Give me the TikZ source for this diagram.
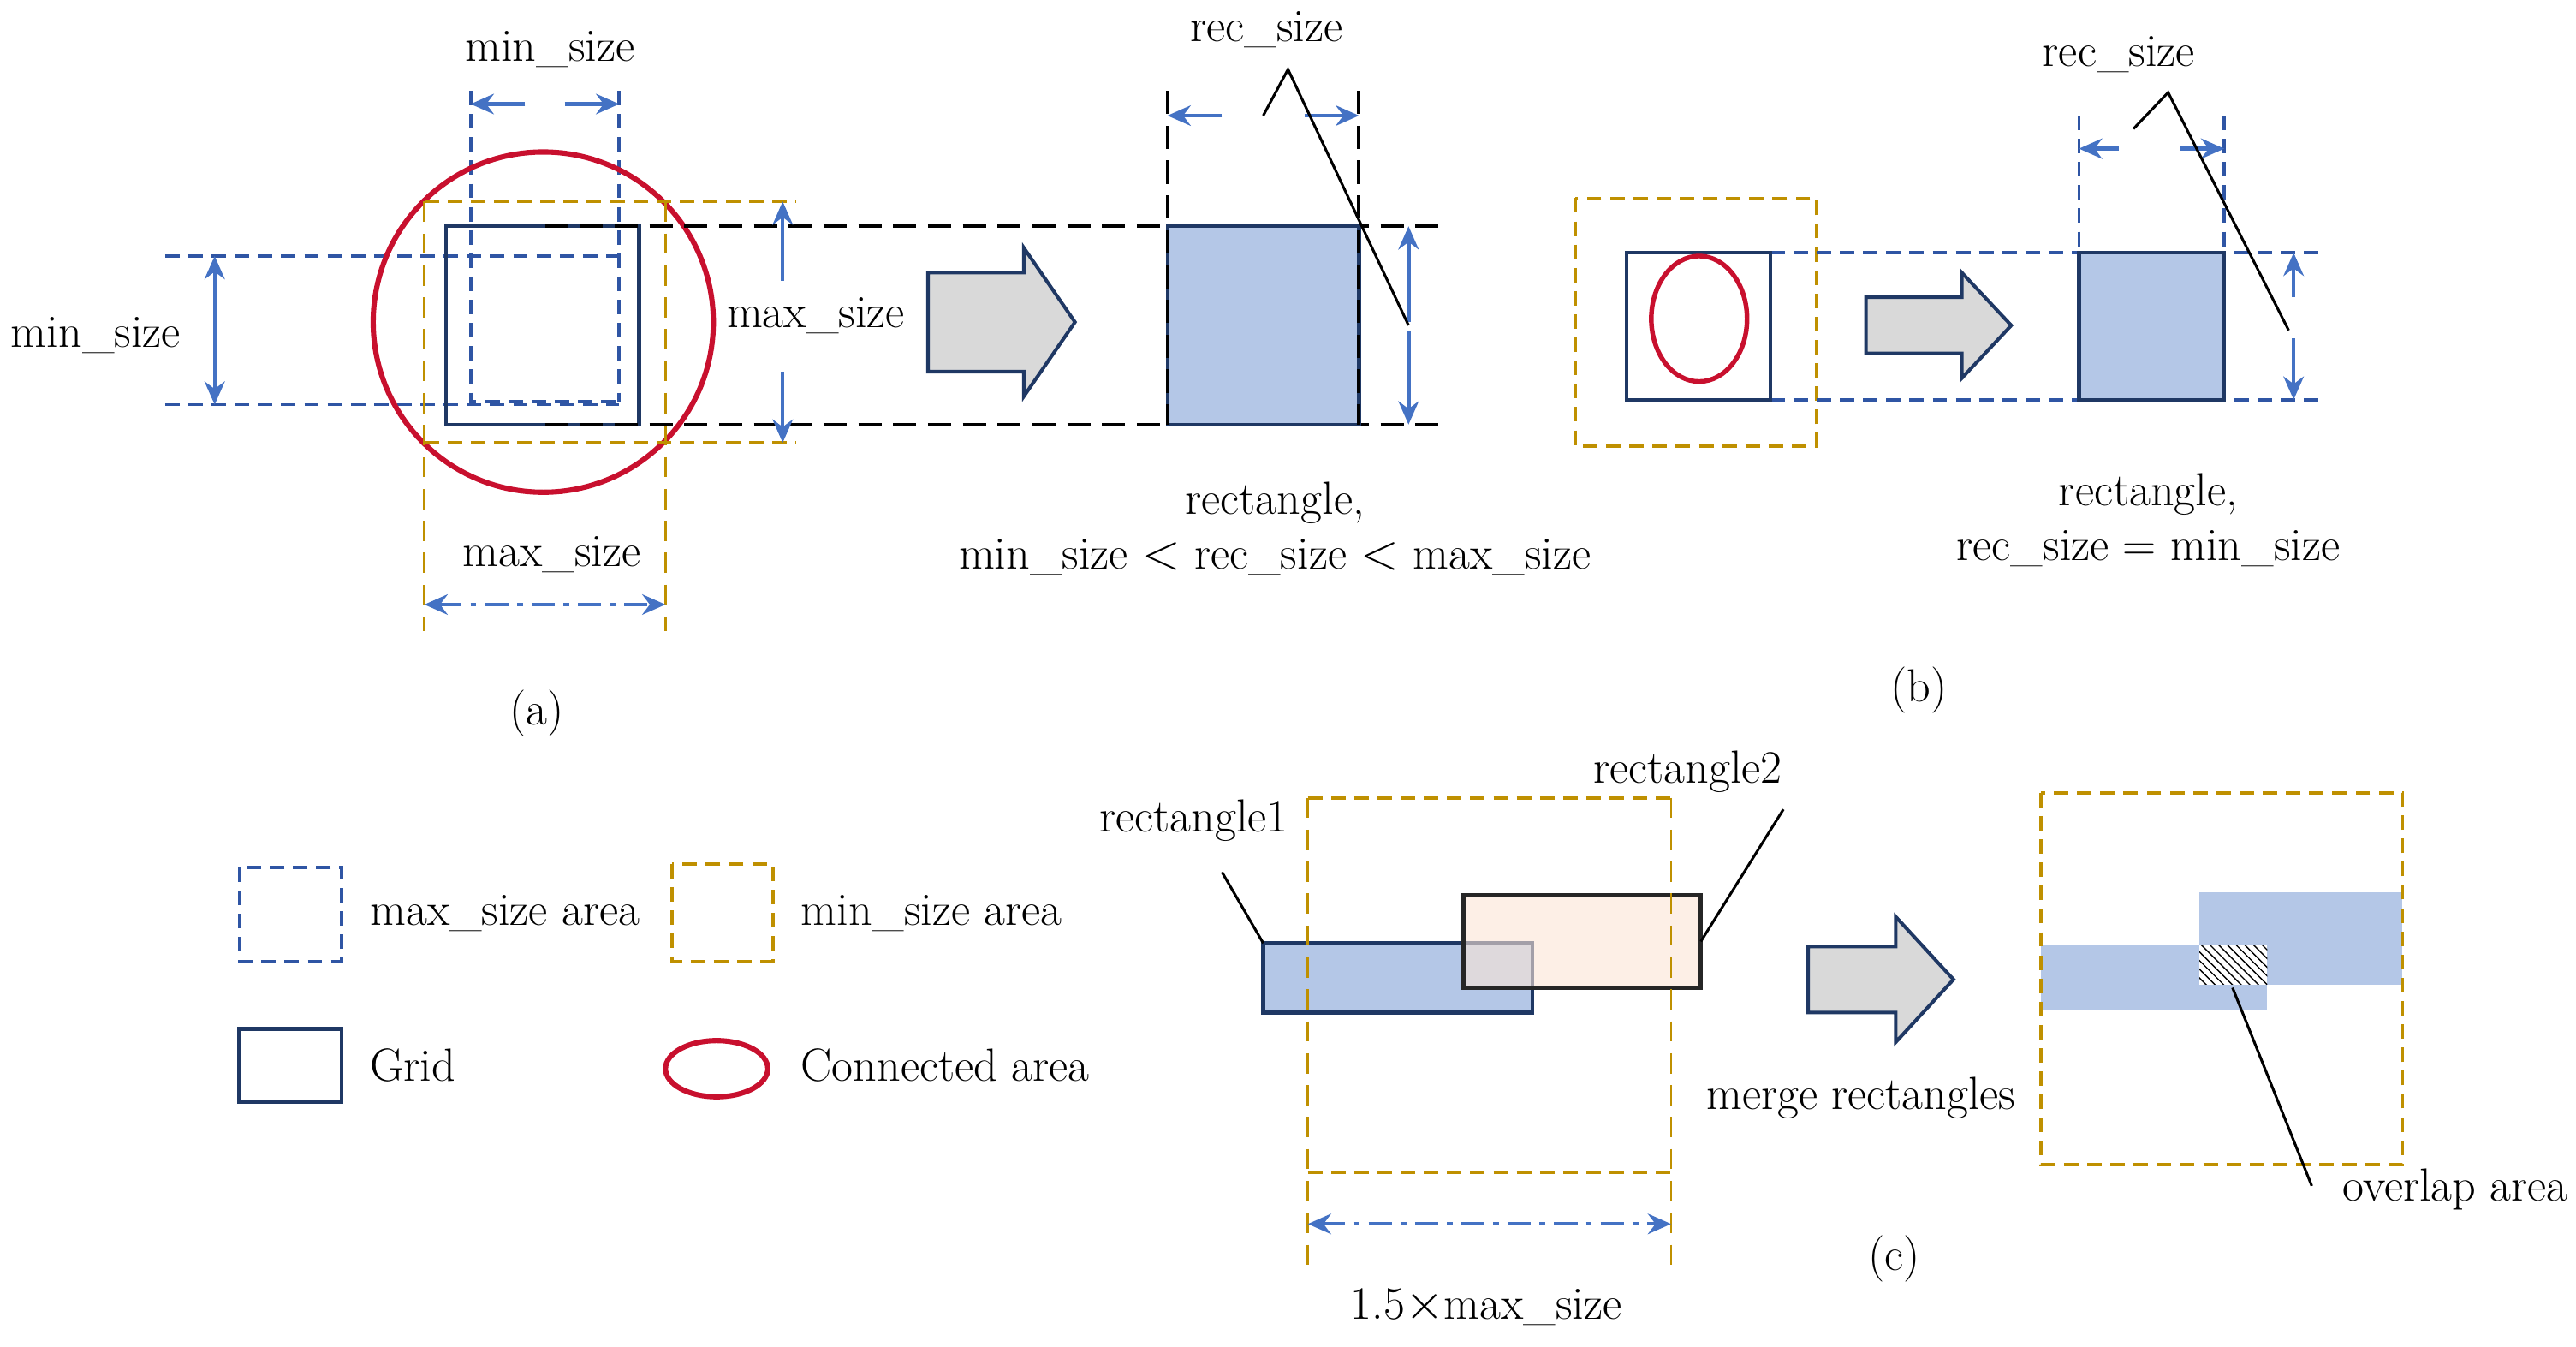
\documentclass[tikz,border=0pt]{standalone}
\usetikzlibrary{arrows.meta,patterns}
\definecolor{ablue}{HTML}{4472C4}
\definecolor{dblue}{HTML}{2F55A4}
\definecolor{gold}{HTML}{BF9000}
\definecolor{cred}{HTML}{C8102E}
\definecolor{navy}{HTML}{1F3864}
\definecolor{fblue}{HTML}{B4C7E7}
\definecolor{gray1}{HTML}{D9D9D9}
\definecolor{peach}{HTML}{FBE5D6}
\begin{document}
\begin{tikzpicture}[x=0.02cm,y=-0.02cm,
  lbl/.style={font=\fontsize{16}{19}\selectfont,inner sep=1pt},
  bdash/.style={draw=dblue,line width=1.1pt,dash pattern=on 5pt off 3pt},
  gdash/.style={draw=gold,line width=1.1pt,dash pattern=on 5pt off 3pt},
  gthin/.style={draw=gold,line width=0.8pt,dash pattern=on 7pt off 4pt},
  kdash/.style={draw=black,line width=1.2pt,dash pattern=on 8pt off 4pt},
  grid/.style={draw=navy,line width=1.3pt},
  dim/.style={draw=ablue,line width=1.3pt,-{Stealth[length=8pt,width=7pt]}},
  bigarr/.style={draw=navy,line width=1.2pt,fill=gray1},
  lead/.style={draw=black,line width=0.9pt}]
\useasboundingbox (0,0) rectangle (1560,815);
% ---------- (a)
\draw[bdash] (285,55) -- (285,243) -- (375,243);
\draw[bdash] (375,55) -- (375,243);
\draw[bdash] (100,155) -- (375,155);
\draw[bdash] (100,245) -- (375,245);
\draw[grid] (270,137) rectangle (387,257);
\draw[draw=cred,line width=1.8pt] (329,195) circle (103);
\draw[gdash] (257,122) -- (482,122);
\draw[gdash] (257,268) -- (482,268);
\draw[gthin] (257,122) -- (257,382);
\draw[gthin] (403,122) -- (403,382);
\draw[kdash] (330,137) -- (878,137);
\draw[kdash] (330,257) -- (878,257);
\draw[dim] (318,63) -- (285,63);
\draw[dim] (342,63) -- (375,63);
\node[lbl] (tmin) at (333,30) {min\_size};
\draw[dim] (130,215) -- (130,155);
\draw[dim] (130,190) -- (130,245);
\node[lbl] (lmin) at (58,203) {min\_size};
\draw[dim] (474,170) -- (474,122);
\draw[dim] (474,225) -- (474,268);
\node[lbl] (rmax) at (494,191) {max\_size};
\draw[dim,dash pattern=on 8pt off 3pt on 2pt off 3pt,{Stealth[length=8pt,width=7pt]}-{Stealth[length=8pt,width=7pt]}] (257,366) -- (403,366);
\node[lbl] (bmax) at (334,336) {max\_size};
\draw[bigarr] (562,165) -- (620,165) -- (620,150) -- (651,195) -- (620,240) -- (620,225) -- (562,225) -- cycle;
\draw[draw=navy,line width=1.3pt,fill=fblue] (707,137) rectangle (823,257);
\draw[kdash] (707,55) -- (707,257);
\draw[kdash] (823,55) -- (823,257);
\draw[dim] (740,70) -- (707,70);
\draw[dim] (790,70) -- (823,70);
\draw[dim] (853,195) -- (853,137);
\draw[dim] (853,200) -- (853,257);
\node[lbl] (rs1) at (767,18) {rec\_size};
\draw[lead] (765,70) -- (780,42) -- (853,197);
\node[lbl,align=center] (t1) at (772,320) {rectangle,\\min\_size $<$ rec\_size $<$ max\_size};
\node[lbl] (la) at (325,432) {(a)};
% ---------- (b)
\draw[gdash] (954,120) rectangle (1100,270);
\draw[bdash] (1072,153) -- (1408,153);
\draw[bdash] (1072,242) -- (1408,242);
\draw[grid] (985,153) rectangle (1072,242);
\draw[draw=cred,line width=1.6pt] (1029,193) ellipse (29 and 38);
\draw[bigarr] (1130,180) -- (1188,180) -- (1188,165) -- (1218,197) -- (1188,229) -- (1188,214) -- (1130,214) -- cycle;
\draw[draw=navy,line width=1.3pt,fill=fblue] (1259,153) rectangle (1347,242);
\draw[bdash] (1259,70) -- (1259,153);
\draw[bdash] (1347,70) -- (1347,153);
\draw[dim] (1283,90) -- (1259,90);
\draw[dim] (1320,90) -- (1347,90);
\draw[dim] (1389,180) -- (1389,153);
\draw[dim] (1389,205) -- (1389,242);
\node[lbl] (rs2) at (1283,33) {rec\_size};
\draw[lead] (1292,78) -- (1313,56) -- (1386,200);
\node[lbl,align=center] (t2) at (1301,315) {rectangle,\\rec\_size = min\_size};
\node[lbl] (lb) at (1162,418) {(b)};
% ---------- legend
\draw[bdash] (145,525) rectangle (207,582);
\node[lbl,anchor=west] (l1) at (222,553) {max\_size area};
\draw[gdash] (407,523) rectangle (468,582);
\node[lbl,anchor=west] (l2) at (483,553) {min\_size area};
\draw[grid] (145,623) rectangle (207,667);
\node[lbl,anchor=west] (l3) at (222,645) {Grid};
\draw[draw=cred,line width=1.8pt] (434,647) ellipse (31 and 17);
\node[lbl,anchor=west] (l4) at (483,645) {Connected area};
% ---------- (c)
\draw[draw=navy,line width=1.3pt,fill=fblue] (765,571) rectangle (928,613);
\draw[draw=black!85,line width=1.5pt,fill=peach,fill opacity=0.6] (886,542) rectangle (1030,598);
\draw[gdash] (792,483) -- (1012,483);
\draw[gdash] (792,710) -- (1012,710);
\draw[gthin] (792,483) -- (792,768);
\draw[gthin] (1012,483) -- (1012,768);
\draw[dim,dash pattern=on 8pt off 3pt on 2pt off 3pt,{Stealth[length=8pt,width=7pt]}-{Stealth[length=8pt,width=7pt]}] (792,741) -- (1012,741);
\node[lbl] (lc15) at (900,791) {1.5$\times$max\_size};
\node[lbl] (r1) at (723,497) {rectangle1};
\draw[lead] (740,528) -- (765,571);
\node[lbl] (r2) at (1022,467) {rectangle2};
\draw[lead] (1080,490) -- (1030,570);
\draw[bigarr] (1095,573) -- (1148,573) -- (1148,555) -- (1183,593) -- (1148,631) -- (1148,613) -- (1095,613) -- cycle;
\node[lbl] (mr) at (1127,665) {merge rectangles};
\fill[fblue] (1236,572) rectangle (1373,612);
\fill[fblue] (1332,540) rectangle (1455,596);
\fill[white] (1332,572) rectangle (1373,596);
\fill[pattern=north west lines] (1332,572) rectangle (1373,596);
\draw[gdash] (1236,480) rectangle (1455,705);
\draw[lead] (1352,598) -- (1400,718);
\node[lbl] (ov) at (1487,720) {overlap area};
\node[lbl] (lcc) at (1147,762) {(c)};
\end{tikzpicture}
\end{document}
